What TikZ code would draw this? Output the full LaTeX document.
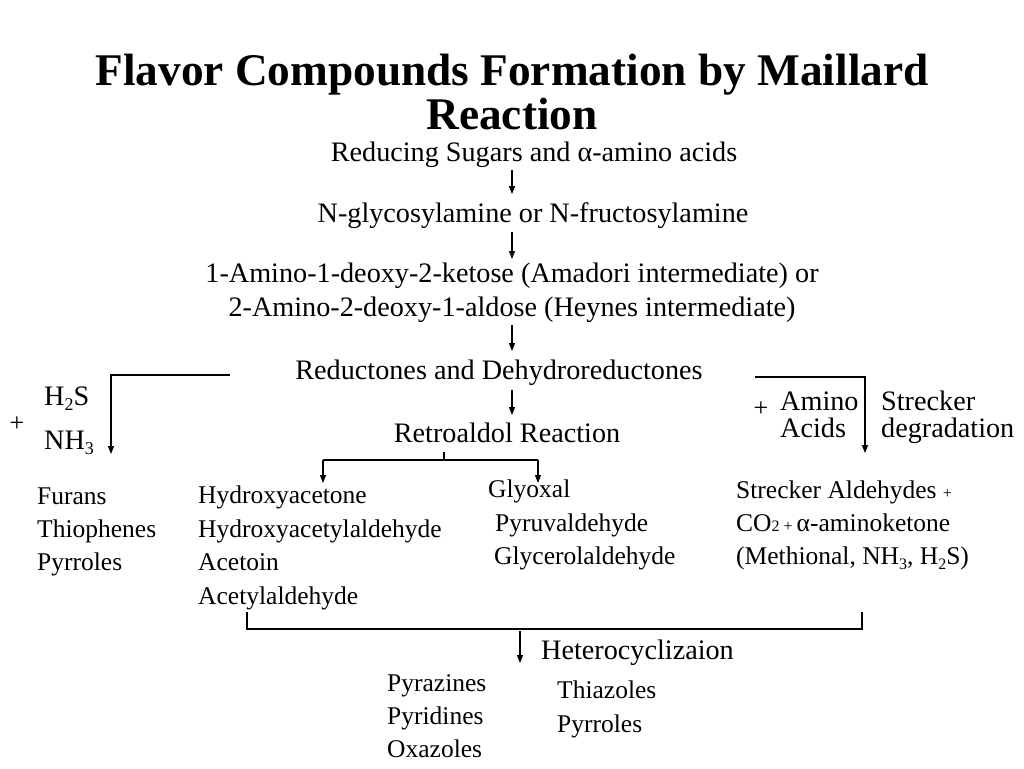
\documentclass[tikz,border=0pt]{standalone}
\usepackage{fontspec}
\setmainfont{Liberation Serif}
\usetikzlibrary{arrows.meta}
\newcommand\mysub[1]{\raisebox{-0.22em}{\fontsize{0.66\dimexpr\fontdimen6\font\relax}{10}\selectfont #1}}
\begin{document}
\begin{tikzpicture}[x=1pt,y=-1pt,
 ttl/.style={font=\fontsize{45.3}{42}\selectfont\bfseries, inner sep=0pt, anchor=base},
 big/.style={font=\fontsize{28.2}{34}\selectfont, inner sep=0pt, anchor=base},
 bigw/.style={font=\fontsize{28.2}{34}\selectfont, inner sep=0pt, anchor=base west},
 small/.style={font=\fontsize{25.5}{33}\selectfont, inner sep=0pt, anchor=base west},
 plus/.style={font=\fontsize{26}{26}\selectfont, inner sep=0pt},
 arr/.style={-{Triangle[length=8pt,width=6pt]}, line width=1.2pt},
 ln/.style={line width=1.2pt}]
\useasboundingbox (0,0) rectangle (1024,768);
% title
\node[ttl] (t1) at (512,85) {Flavor Compounds Formation by Maillard};
\node[ttl] (t2) at (512,129) {Reaction};
% main chain
\node[big] (s1) at (534,161) {Reducing Sugars and α-amino acids};
\node[big] (s2) at (533,222) {N-glycosylamine or N-fructosylamine};
\node[big] (s3a) at (512,282) {1-Amino-1-deoxy-2-ketose (Amadori intermediate) or};
\node[big] (s3b) at (512,316) {2-Amino-2-deoxy-1-aldose (Heynes intermediate)};
\node[big] (s4) at (499,379) {Reductones and Dehydroreductones};
\node[big] (s5) at (507,442) {Retroaldol Reaction};
\coordinate (a1s) at (512,170); \coordinate (a1e) at (512,194);
\coordinate (a2s) at (512,232); \coordinate (a2e) at (512,259);
\coordinate (a3s) at (512,325); \coordinate (a3e) at (512,351);
\coordinate (a4s) at (512,390); \coordinate (a4e) at (512,415);
\draw[arr] (a1s) -- (a1e);
\draw[arr] (a2s) -- (a2e);
\draw[arr] (a3s) -- (a3e);
\draw[arr] (a4s) -- (a4e);
% left branch
\coordinate (lb0) at (230,375); \coordinate (lb1) at (111,375); \coordinate (lb2) at (111,454);
\draw[arr] (lb0) -- (lb1) -- (lb2);
\node[bigw] (h2s) at (44,405) {H{\raisebox{-0.2em}{\fontsize{18}{18}\selectfont 2}}S};
\node[bigw] (nh3) at (44,449) {NH{\raisebox{-0.2em}{\fontsize{18}{18}\selectfont 3}}};
\node[plus] (pl1) at (17,424) {+};
% right branch
\coordinate (rb0) at (755,377); \coordinate (rb1) at (865,377); \coordinate (rb2) at (865,453);
\draw[arr] (rb0) -- (rb1) -- (rb2);
\node[plus] (pl2) at (761,409) {+};
\node[bigw] (am1) at (780,410) {Amino};
\node[bigw] (am2) at (780,437) {Acids};
\node[bigw] (sd1) at (881,410) {Strecker};
\node[bigw] (sd2) at (881,437) {degradation};
% retroaldol split
\coordinate (rt0) at (444,452); \coordinate (rt1) at (444,460);
\coordinate (rl0) at (323,460); \coordinate (rl1) at (323,483);
\coordinate (rr0) at (538,460); \coordinate (rr1) at (538,483);
\draw[ln] (rt0) -- (rt1);
\draw[ln] (rl0) -- (rr0);
\draw[arr] (rl0) -- (rl1);
\draw[arr] (rr0) -- (rr1);
% left list
\node[small] (f1) at (37,504) {Furans};
\node[small] (f2) at (37,537) {Thiophenes};
\node[small] (f3) at (37,570) {Pyrroles};
% hydroxy list
\node[small] (h1) at (198,503) {Hydroxyacetone};
\node[small] (h2) at (198,537) {Hydroxyacetylaldehyde};
\node[small] (h3) at (198,570) {Acetoin};
\node[small] (h4) at (198,604) {Acetylaldehyde};
% glyoxal list
\node[small] (g1) at (488,497) {Glyoxal};
\node[small] (g2) at (495,531) {Pyruvaldehyde};
\node[small] (g3) at (494,564) {Glycerolaldehyde};
% strecker list
\node[small] (k1) at (736,498) {Strecker Aldehydes {\fontsize{16}{16}\selectfont +}};
\node[small] (k2) at (736,531) {CO{\fontsize{16}{16}\selectfont 2 + }α-aminoketone};
\node[small] (k3) at (736,564) {(Methional, NH{\raisebox{-0.2em}{\fontsize{16}{16}\selectfont 3}}, H{\raisebox{-0.2em}{\fontsize{16}{16}\selectfont 2}}S)};
% bottom bracket
\coordinate (bb0) at (247,612); \coordinate (bb1) at (247,629);
\coordinate (bb2) at (862,629); \coordinate (bb3) at (862,612);
\draw[ln] (bb0) -- (bb1) -- (bb2) -- (bb3);
\coordinate (ha0) at (520,631); \coordinate (ha1) at (520,663);
\draw[arr] (ha0) -- (ha1);
\node[bigw] (het) at (541,659) {Heterocyclizaion};
% bottom lists
\node[small] (p1) at (387,691) {Pyrazines};
\node[small] (p2) at (387,724) {Pyridines};
\node[small] (p3) at (387,757) {Oxazoles};
\node[small] (q1) at (557,698) {Thiazoles};
\node[small] (q2) at (557,732) {Pyrroles};
\end{tikzpicture}
\end{document}
